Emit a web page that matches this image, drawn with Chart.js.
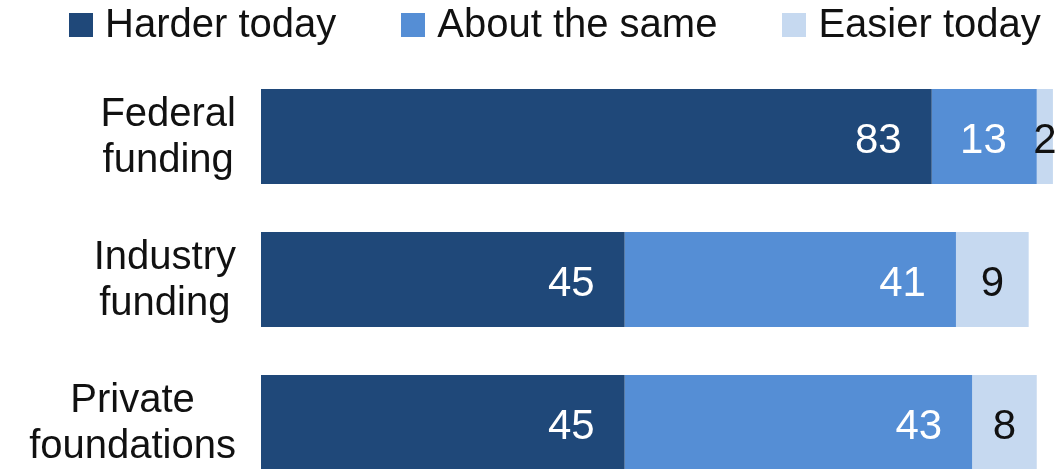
<!DOCTYPE html>
<html>
<head>
<meta charset="utf-8">
<script src="https://cdn.jsdelivr.net/npm/chart.js@4.4.1/dist/chart.umd.min.js"></script>
<style>
  html, body { margin: 0; padding: 0; background: #fff; overflow: hidden; }
  #wrap { position: relative; width: 1061px; height: 500px; }
  #legend {
    position: absolute; left: 69px; top: 0; display: flex; align-items: flex-start;
    font-family: "Liberation Sans", Arial, sans-serif; font-size: 40px; line-height: 46px; color: #111;
  }
  #legend .item { display: flex; align-items: flex-start; margin-right: 65px; white-space: nowrap; }
  #legend .item:last-child { margin-right: 0; }
  #legend .box { width: 24px; height: 24px; margin-top: 13px; margin-right: 12px; }
</style>
</head>
<body>
<div id="wrap">
  <canvas id="barChart"></canvas>
  <div id="legend"></div>
</div>
<script>
// Datos del gráfico
const categories = [['Federal', 'funding'], ['Industry', 'funding'], ['Private', 'foundations']];
const seriesNames = ['Harder today', 'About the same', 'Easier today'];
const harder = [83, 45, 45];
const same = [13, 41, 43];
const easier = [2, 9, 8];

const colors = ['#1f4879', '#558ed5', '#c6d9f0'];
const labelFont = '40px "Liberation Sans", Arial, sans-serif';
const valueFont = '42px "Liberation Sans", Arial, sans-serif';

// Leyenda en HTML
const legendEl = document.getElementById('legend');
seriesNames.forEach((name, i) => {
  const item = document.createElement('div');
  item.className = 'item';
  item.innerHTML = '<span class="box" style="background:' + colors[i] + '"></span><span>' + name + '</span>';
  legendEl.appendChild(item);
});

// Etiquetas de categoría: bloque alineado a la derecha, líneas centradas
const categoryLabels = {
  id: 'categoryLabels',
  afterDraw(chart) {
    const ctx = chart.ctx;
    const yScale = chart.scales.y;
    ctx.save();
    ctx.font = labelFont;
    ctx.fillStyle = '#111';
    ctx.textAlign = 'center';
    ctx.textBaseline = 'alphabetic';
    categories.forEach((lines, i) => {
      const py = yScale.getPixelForValue(i);
      const maxW = Math.max(...lines.map(l => ctx.measureText(l).width));
      const cx = 236 - maxW / 2;
      lines.forEach((line, j) => {
        ctx.fillText(line, cx, py - 11 + j * 46);
      });
    });
    ctx.restore();
  }
};

// Valores dentro de las barras
const valueLabels = {
  id: 'valueLabels',
  afterDatasetsDraw(chart) {
    const ctx = chart.ctx;
    ctx.save();
    ctx.font = valueFont;
    ctx.textBaseline = 'alphabetic';
    chart.data.datasets.forEach((ds, di) => {
      const meta = chart.getDatasetMeta(di);
      meta.data.forEach((bar, i) => {
        const v = ds.data[i];
        if (di < 2) {
          ctx.fillStyle = '#ffffff';
          ctx.textAlign = 'right';
          ctx.fillText(String(v), bar.x - 30, bar.y + 16);
        } else {
          ctx.fillStyle = '#111';
          ctx.textAlign = 'center';
          ctx.fillText(String(v), (bar.x + bar.base) / 2, bar.y + 16);
        }
      });
    });
    ctx.restore();
  }
};

const ctx = document.getElementById('barChart').getContext('2d');
new Chart(ctx, {
  type: 'bar',
  data: {
    labels: categories,
    datasets: [
      { label: seriesNames[0], data: harder, backgroundColor: colors[0] },
      { label: seriesNames[1], data: same, backgroundColor: colors[1] },
      { label: seriesNames[2], data: easier, backgroundColor: colors[2] }
    ]
  },
  options: {
    indexAxis: 'y',
    responsive: true,
    maintainAspectRatio: false,
    animation: false,
    layout: { padding: { top: 65, bottom: 6, left: 0, right: 0 } },
    datasets: {
      bar: { categoryPercentage: 1, barPercentage: 0.664, borderWidth: 0 }
    },
    plugins: {
      legend: { display: false },
      tooltip: { enabled: false }
    },
    scales: {
      x: {
        stacked: true,
        min: 0,
        max: 99,
        display: false
      },
      y: {
        stacked: true,
        grid: { display: false },
        border: { display: false },
        ticks: { display: false },
        afterFit(scale) { scale.width = 261; }
      }
    }
  },
  plugins: [categoryLabels, valueLabels]
});
</script>
</body>
</html>
